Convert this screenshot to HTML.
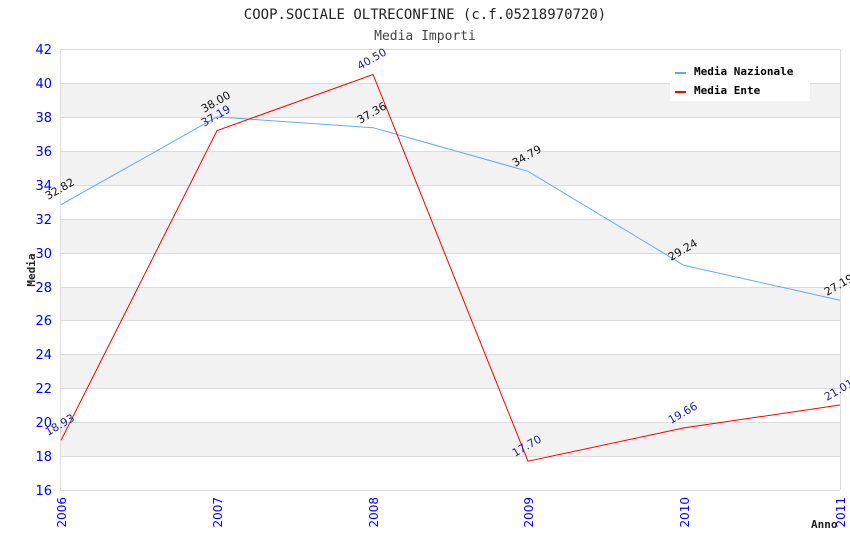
<!DOCTYPE html>
<html><head><meta charset="utf-8"><style>
body{margin:0;background:#fff;width:850px;height:550px;overflow:hidden}
.m{font-family:"DejaVu Sans Mono","Liberation Mono",monospace}
.s{font-family:"DejaVu Sans","Liberation Sans",sans-serif}
</style></head><body>
<svg width="850" height="550" xmlns="http://www.w3.org/2000/svg">
<rect width="850" height="550" fill="#fff"/>
<g fill="#f2f2f2">
<rect x="61" y="83" width="779" height="34"/>
<rect x="61" y="151" width="779" height="34"/>
<rect x="61" y="219" width="779" height="34"/>
<rect x="61" y="287" width="779" height="33"/>
<rect x="61" y="354" width="779" height="34"/>
<rect x="61" y="422" width="779" height="34"/>
</g>
<g stroke="#dcdcdc" stroke-width="1">
<line x1="61" y1="49.5" x2="840" y2="49.5"/><line x1="61" y1="83.5" x2="840" y2="83.5"/>
<line x1="61" y1="117.5" x2="840" y2="117.5"/><line x1="61" y1="151.5" x2="840" y2="151.5"/>
<line x1="61" y1="185.5" x2="840" y2="185.5"/><line x1="61" y1="219.5" x2="840" y2="219.5"/>
<line x1="61" y1="253.5" x2="840" y2="253.5"/><line x1="61" y1="287.5" x2="840" y2="287.5"/>
<line x1="61" y1="320.5" x2="840" y2="320.5"/><line x1="61" y1="354.5" x2="840" y2="354.5"/>
<line x1="61" y1="388.5" x2="840" y2="388.5"/><line x1="61" y1="422.5" x2="840" y2="422.5"/>
<line x1="61" y1="456.5" x2="840" y2="456.5"/><line x1="61" y1="490.5" x2="840" y2="490.5"/>
<line x1="60.5" y1="49" x2="60.5" y2="490"/><line x1="840.5" y1="49" x2="840.5" y2="490"/>
</g>
<g class="s" fill="#0000ee" font-size="13" text-anchor="end">
<text x="52" y="54">42</text><text x="52" y="88">40</text><text x="52" y="122">38</text>
<text x="52" y="156">36</text><text x="52" y="190">34</text><text x="52" y="224">32</text>
<text x="52" y="258">30</text><text x="52" y="292">28</text><text x="52" y="325">26</text>
<text x="52" y="359">24</text><text x="52" y="393">22</text><text x="52" y="427">20</text>
<text x="52" y="461">18</text><text x="52" y="495">16</text>
</g>
<g class="s" fill="#0000ee" font-size="12" text-anchor="end">
<text transform="translate(66,497) rotate(-90)">2006</text>
<text transform="translate(222,497) rotate(-90)">2007</text>
<text transform="translate(378,497) rotate(-90)">2008</text>
<text transform="translate(533,497) rotate(-90)">2009</text>
<text transform="translate(689,497) rotate(-90)">2010</text>
<text transform="translate(845,497) rotate(-90)">2011</text>
</g>
<text class="m" x="425" y="19" font-size="14" text-anchor="middle" fill="#222">COOP.SOCIALE OLTRECONFINE (c.f.05218970720)</text>
<text class="m" x="425" y="40" font-size="13" text-anchor="middle" fill="#444">Media Importi</text>
<text class="m" transform="translate(35,270) rotate(-90)" font-size="11" font-weight="bold" text-anchor="middle" fill="#222">Media</text>
<text class="m" x="811" y="528" font-size="11" font-weight="bold" fill="#222">Anno</text>
<polyline fill="none" stroke="#66aaee" stroke-width="1" points="61,204.7 217,116.9 373,127.7 528,171.3 684,265.4 840,300.2"/>
<polyline fill="none" stroke="#ff0000" stroke-width="1" points="61,440.3 217,130.6 373,74.5 528,461.2 684,427.9 840,405"/>
<g class="s" font-size="11" fill="#111">
<text transform="translate(48,200) rotate(-30)">32.82</text>
<text transform="translate(204,113) rotate(-30)">38.00</text>
<text transform="translate(360,124) rotate(-30)">37.36</text>
<text transform="translate(515,167) rotate(-30)">34.79</text>
<text transform="translate(671,261) rotate(-30)">29.24</text>
<text transform="translate(827,296) rotate(-30)">27.19</text>
</g>
<g class="s" font-size="11" fill="#22228b">
<text transform="translate(48,436) rotate(-30)">18.93</text>
<text transform="translate(204,127) rotate(-30)">37.19</text>
<text transform="translate(360,70) rotate(-30)">40.50</text>
<text transform="translate(515,457) rotate(-30)">17.70</text>
<text transform="translate(671,424) rotate(-30)">19.66</text>
<text transform="translate(827,401) rotate(-30)">21.01</text>
</g>
<rect x="670" y="58" width="140" height="43" fill="#fff"/>
<rect x="675" y="72" width="11" height="2" fill="#66aaee"/>
<rect x="675" y="91" width="11" height="2" fill="#ff0000"/>
<text class="m" x="694" y="75" font-size="11" font-weight="bold" fill="#000">Media Nazionale</text>
<text class="m" x="694" y="94" font-size="11" font-weight="bold" fill="#000">Media Ente</text>
</svg>
</body></html>
